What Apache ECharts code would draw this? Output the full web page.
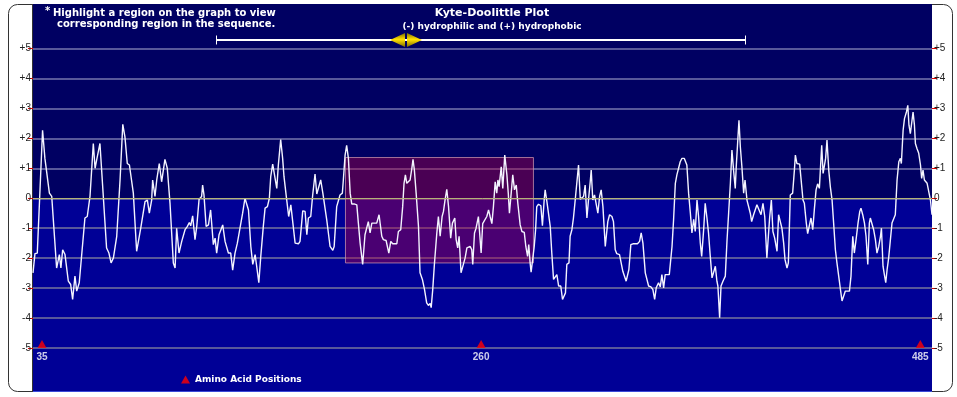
<!DOCTYPE html>
<html><head><meta charset="utf-8">
<script src="https://cdn.jsdelivr.net/npm/echarts@6/dist/echarts.min.js"></script>
<style>html,body{margin:0;padding:0;background:#fff;}#c{width:957px;height:397px;}</style>
</head><body><div id="c"></div>
<script>
// Residue positions (x) and Kyte-Doolittle hydropathy values (y)
const residues = [
30.4,31.4,32.6,35.3,36.5,37.4,38.8,40.0,42.5,43.9,44.7,45.6,46.8,48.5,49.7,50.7,51.9,52.8,54.1,57.0,
58.2,59.6,61.3,62.2,63.0,64.7,68.1,69.3,70.4,71.6,73.3,75.0,76.4,77.5,78.7,79.8,81.8,83.5,84.5,85.6,
86.6,87.8,89.0,90.0,91.2,91.7,92.9,93.8,95.1,96.3,97.2,98.0,99.2,100.6,102.3,103.2,104.0,105.2,106.6,107.4,
108.3,109.5,110.5,111.2,112.2,113.4,114.3,115.5,116.8,117.3,118.0,119.1,120.3,121.4,122.8,123.7,124.5,125.7,126.6,127.6,
128.8,129.6,130.5,131.7,132.7,133.9,135.1,136.1,137.8,139.0,139.9,140.8,142.0,143.0,144.2,145.0,146.1,147.1,148.4,149.3,
150.5,151.5,152.2,153.2,154.1,155.3,156.1,157.3,158.3,159.0,160.4,161.4,162.5,163.5,164.7,166.4,167.2,168.6,169.8,170.7,
171.5,172.7,173.7,174.9,175.8,176.6,177.8,178.9,179.9,180.9,182.6,184.0,184.7,186.0,186.9,187.7,188.9,189.4,190.3,191.1,
192.0,192.9,193.7,194.9,196.3,197.1,198.0,199.3,200.5,201.4,202.2,203.1,204.0,204.8,206.5,207.7,209.1,209.9,211.3,212.7,
213.7,214.7,216.8,217.6,218.8,219.8,220.5,221.2,221.9,222.7,223.6,224.5,225.1,225.8,226.7,227.9,228.7,229.9,231.0,232.1,
233.0,233.9,234.4,235.2,236.1,237.3,238.1,239.0,240.0,240.7,241.5,242.4,243.3,244.4,245.3,246.5,247.2,248.0,248.7,249.7,
250.6,251.8,252.7,254.4,255.2,255.7,256.6,257.4,258.6,259.5,260.0,260.8,261.7,262.9,263.8,264.6,265.5,266.3,267.2,268.0,
268.6,269.2,270.3,271.1,272.1,273.2,273.9,274.5,275.4,276.2,277.1,278.0,278.8,280.0,280.9,282.1,282.9,283.8,284.4,285.1,
285.6,286.5,287.2,287.9,288.5,289.4,290.6,291.4,292.3,292.8,293.7,294.7,295.4,296.2,297.1,297.9,298.8,299.7,300.8,301.7,
302.6,303.2,303.9,305.0,305.6,306.5,307.3,308.2,309.1,309.9,310.8,311.6,312.5,313.3,314.2,315.0,315.9,316.4,317.2,318.1,
319.0,319.8,320.7,321.5,322.4,323.6,324.9,325.8,327.0,327.8,328.7,329.5,330.9,331.9,332.6,333.3,334.3,335.0,335.7,336.7,
337.8,340.1,341.2,342.0,342.9,344.1,344.9,345.8,347.0,348.0,348.9,349.7,350.9,351.8,352.6,353.5,354.3,356.4,357.8,358.6,
359.5,360.3,361.2,362.0,362.9,364.1,364.8,365.4,366.3,367.2,368.0,368.9,369.7,370.6,371.4,372.3,373.0,374.0,374.8,375.7,
376.5,377.4,378.3,379.1,380.0,380.8,381.3,382.2,382.9,383.9,385.1,386.0,386.8,387.7,388.5,389.4,390.2,390.7,391.4,392.1,
392.8,393.6,394.5,395.2,396.2,397.2,397.9,398.6,399.6,400.5,401.3,402.3,403.4,404.4,405.3,406.4,407.8,408.7,409.5,410.4,
411.6,412.4,413.3,414.1,415.0,415.7,416.7,417.4,418.4,419.6,420.5,421.0,421.8,423.2,424.1,424.9,425.6,426.6,427.3,428.2,
429.0,429.9,430.7,431.6,432.4,433.3,433.8,434.5,435.2,435.9,436.5,437.2,438.1,438.9,439.8,440.6,441.5,442.3,443.2,444.1,
444.9,445.8,446.6,448.7,449.5,450.4,451.2,452.3,453.1,454.0,454.6,455.5,456.4,457.2,458.1,458.9,459.4,460.3,461.1,462.0,
462.8,463.7,464.6,465.1,465.9,466.6,467.3,468.0,468.8,469.7,470.5,471.4,472.2,473.1,474.0,474.8,475.3,476.2,476.9,477.9,
478.6,479.2,479.9,480.8,481.3,482.0,482.5,483.3,484.2,485.1,485.7,486.4,487.1,487.8,488.5,489.5,490.2,491.0
];
const hydropathy = [
-2.49,-1.85,-1.83,2.27,1.33,1.30,0.17,0.06,-2.33,-1.88,-2.33,-1.72,-1.88,-2.77,-2.88,-3.38,-2.60,-3.10,-2.82,-0.66,
-0.61,0.06,1.83,1.00,1.27,1.83,-1.66,-1.83,-2.16,-1.99,-1.27,0.61,2.47,2.05,1.16,1.11,0.17,-1.77,-1.72,-1.00,
-0.96,-0.11,-0.06,-0.50,-0.06,0.61,0.06,0.61,1.16,0.55,0.50,1.30,1.00,-0.17,-2.16,-2.33,-1.00,-1.83,-1.44,-1.44,
-1.05,-0.94,-0.81,-0.92,-0.59,-1.38,-0.94,-0.03,0.06,0.44,0.11,-0.94,-0.89,-0.39,-1.55,-1.33,-1.83,-1.22,-1.22,-0.89,
-1.44,-1.50,-1.83,-1.83,-2.40,-1.83,-1.50,-1.44,-0.50,0.00,-0.03,-0.39,-1.61,-2.21,-1.88,-2.27,-2.82,-1.94,-0.94,-0.33,
-0.28,0.00,0.72,1.14,1.11,0.33,1.11,1.96,1.33,0.72,-0.06,-0.61,-0.22,-0.25,-1.50,-1.52,-1.44,-0.42,-0.44,-1.22,
-0.66,-0.61,0.11,0.81,0.14,0.14,0.61,0.17,0.11,-0.72,-1.61,-1.74,-1.61,-0.28,-0.22,0.11,0.17,0.61,1.44,1.77,
1.33,0.17,-0.19,-0.19,-0.22,-0.83,-1.50,-2.21,-1.22,-1.16,-0.78,-1.16,-0.83,-0.78,-0.83,-0.55,-1.27,-1.38,-1.41,-1.83,
-1.44,-1.52,-1.52,-1.11,-1.05,-0.28,0.50,0.78,0.50,0.50,0.61,1.00,1.30,0.94,0.17,-0.94,-2.49,-2.71,-3.05,-3.49,
-3.58,-3.51,-3.65,-3.05,-2.16,-1.16,-0.61,-1.27,-0.61,-0.44,-0.06,0.30,-0.28,-1.33,-0.83,-0.66,-1.38,-1.66,-1.27,-2.49,
-2.47,-1.99,-1.66,-1.61,-1.72,-2.21,-1.16,-1.00,-0.61,-1.38,-1.83,-0.85,-0.81,-0.61,-0.39,-0.61,-0.85,-0.28,0.55,0.17,
0.61,0.39,1.05,0.33,1.44,0.78,0.17,-0.50,0.17,0.78,0.28,0.44,-0.17,-0.89,-1.11,-1.14,-1.61,-1.94,-1.55,-2.16,
-2.47,-1.99,-1.61,-1.05,-0.28,-0.20,-0.25,-0.92,-0.06,0.28,-0.11,-0.17,-0.94,-1.83,-2.71,-2.66,-2.55,-2.93,-2.93,-3.38,
-3.43,-3.16,-2.21,-2.16,-1.27,-1.05,-0.66,-0.06,-0.03,1.11,-0.03,0.00,0.06,0.44,-0.66,-0.06,0.55,0.94,-0.06,0.11,
0.11,-0.50,0.06,0.28,-0.28,-1.61,-0.78,-0.55,-0.61,-0.78,-1.72,-1.85,-1.88,-1.94,-2.44,-2.49,-2.77,-2.82,-2.38,-1.55,
-1.52,-1.52,-1.44,-1.16,-1.50,-2.49,-2.49,-2.93,-2.96,-3.05,-3.38,-2.99,-2.82,-2.96,-2.55,-2.99,-2.55,-2.55,-1.61,-0.72,
0.50,0.78,0.83,1.22,1.33,1.33,1.27,1.11,0.17,-0.50,-1.16,-0.70,-1.11,-0.06,-0.61,-1.50,-1.94,-1.05,-0.17,-0.66,
-1.16,-1.94,-2.66,-2.71,-2.27,-2.77,-2.93,-3.99,-2.93,-2.77,-2.60,-1.38,-0.50,0.50,1.61,0.89,0.33,1.05,1.83,2.60,
1.72,1.05,0.17,0.61,-0.06,-0.11,-0.50,-0.78,-0.55,-0.55,-0.22,-0.22,-0.55,-0.17,-0.61,-1.99,-0.66,-0.06,-1.11,-1.33,
-1.77,-0.55,-0.52,-1.00,-1.50,-2.05,-2.33,-2.16,0.11,0.17,0.94,1.44,1.16,1.14,1.11,-0.06,-0.17,-0.83,-1.18,-1.16,
-0.66,-1.05,-0.39,0.28,0.48,0.33,0.94,1.77,0.83,0.81,1.33,1.94,0.94,0.39,-0.06,-0.83,-1.72,-2.16,-2.60,-3.05,
-3.43,-3.49,-3.10,-3.10,-2.60,-1.27,-1.83,-1.27,-0.83,-0.44,-0.33,-0.55,-0.83,-1.27,-2.21,-0.83,-0.66,-0.66,-1.05,-1.38,
-1.83,-1.61,-1.27,-1.00,-2.27,-2.55,-2.82,-2.38,-1.99,-1.99,-0.83,-0.78,-0.55,0.61,1.22,1.33,1.16,2.27,2.66,2.88,
3.10,2.44,2.16,2.16,2.88,2.44,1.83,1.66,1.50,1.11,0.66,0.94,0.61,0.66,0.50,0.44,-0.06,-0.55
];
const positionMarks = [35, 260, 485];
const yTickLabels = ['-5','-4','-3','-2','-1','0','+1','+2','+3','+4','+5'];
const highlightX = [190.5, 286.8];
const highlightY = [1.36, -2.16];
const xRange = [30.4, 491.0];
const yRange = [-5, 5];

const chart = echarts.init(document.getElementById('c'));
const tickLabel = v => yTickLabels[Math.round(v) + 5] || String(v);
const yAxisBase = {
  type: 'value', min: yRange[0], max: yRange[1], interval: 1,
  axisLine: {show: false},
  axisTick: {show: true, length: 5, lineStyle: {color: '#e00000', width: 1}},
  axisLabel: {color: '#222', fontSize: 10, fontFamily: 'Liberation Sans', margin: 2, formatter: tickLabel}
};
chart.setOption({
  animation: false,
  backgroundColor: '#ffffff',
  title: {
    text: 'Kyte-Doolittle Plot',
    subtext: '(-) hydrophilic and (+) hydrophobic',
    left: 487, top: 3, textAlign: 'center', itemGap: 3,
    textStyle: {color: '#fff', fontSize: 11, fontWeight: 'bold', fontFamily: 'DejaVu Sans'},
    subtextStyle: {color: '#fff', fontSize: 9, fontWeight: 'bold', fontFamily: 'DejaVu Sans'}
  },
  grid: {left: 33, right: 25, top: 48.5, bottom: 49},
  xAxis: {type: 'value', min: xRange[0], max: xRange[1], show: false},
  yAxis: [
    Object.assign({}, yAxisBase, {position: 'left',
      splitLine: {show: true, lineStyle: {color: '#58589a', width: 2}}}),
    Object.assign({}, yAxisBase, {position: 'right', splitLine: {show: false}})
  ],
  legend: {
    data: [{name: 'Amino Acid Positions', icon: 'triangle'}],
    left: 176, top: 370, itemWidth: 9, itemHeight: 8, itemGap: 5,
    textStyle: {color: '#fff', fontSize: 9, fontWeight: 'bold', fontFamily: 'DejaVu Sans'}
  },
  series: [
    {
      type: 'line', name: 'Hydropathy',
      data: residues.map((r, i) => [r, hydropathy[i]]),
      showSymbol: false, symbol: 'none',
      lineStyle: {color: '#f4f4ff', width: 1.4},
      z: 3,
      markArea: {
        silent: true,
        itemStyle: {color: 'rgba(176,0,64,0.42)', borderColor: 'rgba(205,150,175,0.75)', borderWidth: 1},
        data: [[{coord: [highlightX[0], highlightY[0]]}, {coord: [highlightX[1], highlightY[1]]}]]
      },
      markLine: {
        silent: true, symbol: ['none', 'none'], label: {show: false},
        lineStyle: {color: '#b4b478', width: 1, type: 'solid'},
        data: [{yAxis: 0}]
      }
    },
    {
      type: 'scatter', name: 'Amino Acid Positions',
      data: positionMarks.map(p => [p, yRange[0]]),
      symbol: 'triangle', symbolSize: [9, 8], symbolOffset: [0, -4],
      itemStyle: {color: '#ff0000'}, clip: false, z: 5,
      label: {show: true, position: 'bottom', distance: 4, color: '#fff', fontSize: 10,
        fontWeight: 'bold', fontFamily: 'Liberation Sans', formatter: p => String(p.value[0])}
    }
  ]
});

const y0 = chart.convertToPixel({yAxisIndex: 0}, 0);
const knobFill = new echarts.graphic.LinearGradient(0, 0, 0, 1, [
  {offset: 0, color: '#7a6a00'}, {offset: 0.45, color: '#ffe000'}, {offset: 0.55, color: '#f0d000'}, {offset: 1, color: '#7a6a00'}]);
chart.setOption({
  graphic: [
    {type: 'rect', z: -30, shape: {x: 8.5, y: 4.5, width: 944, height: 387, r: 9},
      style: {fill: '#fff', stroke: '#333', lineWidth: 1}},
    {type: 'rect', z: -20, shape: {x: 32, y: 4, width: 900, height: y0 - 4}, style: {fill: '#000062'}},
    {type: 'rect', z: -20, shape: {x: 32, y: y0, width: 900, height: 392 - y0}, style: {fill: '#000096'}},
    {type: 'line', z: -19, shape: {x1: 32, y1: 391.5, x2: 932, y2: 391.5}, style: {stroke: '#3a4ad8', lineWidth: 1}},
    {type: 'line', z: -19, shape: {x1: 32.5, y1: 4, x2: 32.5, y2: 392}, style: {stroke: '#333', lineWidth: 1}},
    {type: 'text', z: 10, style: {x: 45, y: 11, text: '*', fill: '#fff', font: 'bold 10px "DejaVu Sans"', verticalAlign: 'middle'}},
    {type: 'text', z: 10, style: {x: 53, y: 13, text: 'Highlight a region on the graph to view', fill: '#fff', font: 'bold 10px "DejaVu Sans"', verticalAlign: 'middle'}},
    {type: 'text', z: 10, style: {x: 57, y: 24, text: 'corresponding region in the sequence.', fill: '#fff', font: 'bold 10px "DejaVu Sans"', verticalAlign: 'middle'}},
    {type: 'line', z: 10, shape: {x1: 216, y1: 40, x2: 745, y2: 40}, style: {stroke: '#fff', lineWidth: 2}},
    {type: 'line', z: 10, shape: {x1: 216.5, y1: 35.5, x2: 216.5, y2: 44.5}, style: {stroke: '#fff', lineWidth: 1}},
    {type: 'line', z: 10, shape: {x1: 745.5, y1: 35.5, x2: 745.5, y2: 44.5}, style: {stroke: '#fff', lineWidth: 1}},
    {type: 'polygon', z: 11, shape: {points: [[390, 40], [405, 33], [405, 47]]}, style: {fill: knobFill}},
    {type: 'polygon', z: 11, shape: {points: [[422, 40], [407, 33], [407, 47]]}, style: {fill: knobFill}}
  ]
});
</script></body></html>
